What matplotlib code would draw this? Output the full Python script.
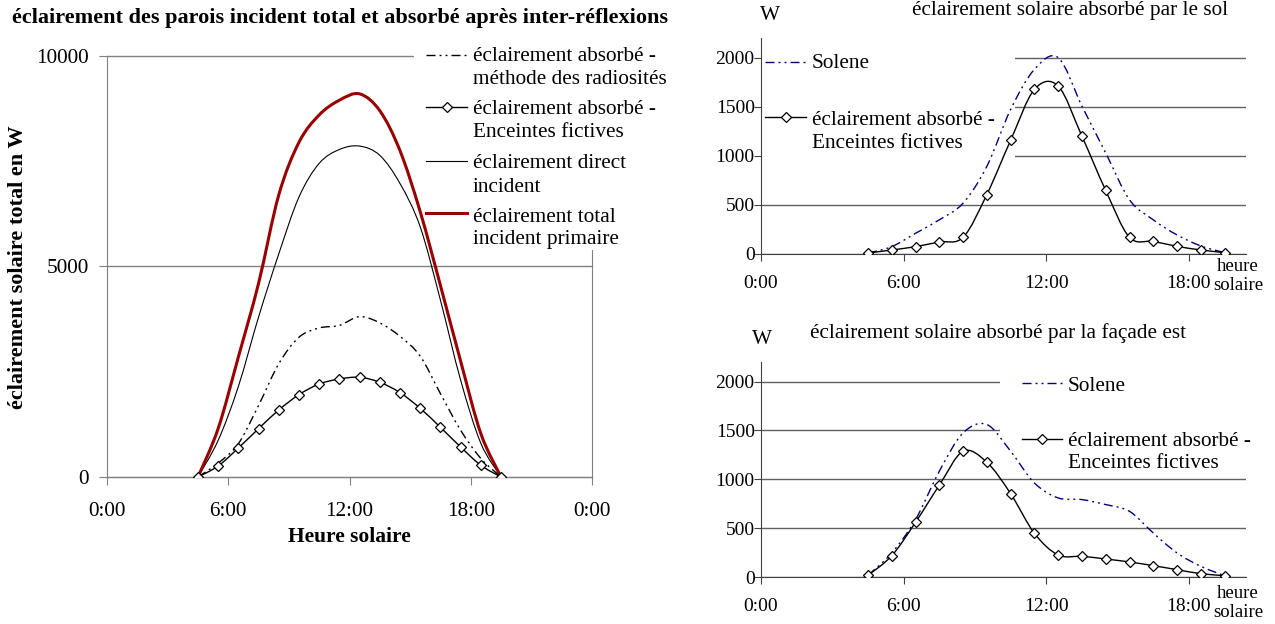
import numpy as np
import matplotlib
matplotlib.use("Agg")
import matplotlib.pyplot as plt
from matplotlib.path import Path
from matplotlib.patches import PathPatch, Rectangle
from matplotlib.lines import Line2D

plt.rcParams['font.family'] = 'Liberation Serif'
plt.rcParams['font.size'] = 15

# heures solaires des points (h)
hours = [4.5, 5.5, 6.5, 7.5, 8.5, 9.5, 10.5, 11.5, 12.5, 13.5, 14.5, 15.5, 16.5, 17.5, 18.5, 19.5]

# graphique de gauche : éclairement des parois (W)
radiosites = [0, 330, 790, 1700, 2690, 3320, 3540, 3600, 3810, 3660, 3340, 2870, 1980, 1110, 440, 0]
enceintes = [0, 261, 689, 1148, 1592, 1956, 2209, 2328, 2368, 2249, 2003, 1631, 1180, 713, 277, 0]
direct = [0, 870, 2150, 3800, 5300, 6650, 7450, 7780, 7860, 7640, 6970, 5940, 4200, 2300, 800, 0]
total = [0, 1150, 2850, 4600, 6700, 7950, 8600, 8950, 9100, 8700, 7750, 6300, 4550, 2750, 1030, 0]

# éclairement absorbé par le sol (W)
sol_solene = [10, 75, 211, 348, 518, 893, 1472, 1880, 2000, 1506, 1029, 552, 348, 194, 82, 14]
sol_enceintes = [10, 41, 75, 123, 170, 606, 1158, 1676, 1710, 1199, 647, 170, 129, 78, 41, 14]

# éclairement absorbé par la façade est (W)
est_solene = [17, 246, 587, 1082, 1474, 1560, 1287, 962, 809, 792, 741, 672, 450, 246, 109, 14]
est_enceintes = [17, 218, 560, 939, 1287, 1174, 853, 447, 225, 212, 184, 154, 116, 75, 34, 14]

x_ticks = [0, 6, 12, 18, 24]
x_labels = ['0:00', '6:00', '12:00', '18:00', '0:00']

W, H = 1275, 624
RED = '#990000'
NAVY = '#000080'
GRID = '#808080'
DASHDOTDOT = (0, (6.5, 2.9, 1.4, 2.9, 1.4, 2.9))
FS = 15.3


def fx(x):
    return x / W


def fy(y):
    return 1 - y / H


def smooth(x, y):
    # courbe lissée façon tableur (Bézier passant par les points)
    x = np.asarray(x, float)
    y = np.asarray(y, float)
    n = len(x)
    verts = [(x[0], y[0])]
    codes = [Path.MOVETO]
    for i in range(n - 1):
        xa, ya = (x[i - 1], y[i - 1]) if i > 0 else (x[i], y[i])
        xb, yb = (x[i + 2], y[i + 2]) if i + 2 < n else (x[i + 1], y[i + 1])
        verts.append((x[i] + (x[i + 1] - xa) / 6, y[i] + (y[i + 1] - ya) / 6))
        verts.append((x[i + 1] - (xb - x[i]) / 6, y[i + 1] - (yb - y[i]) / 6))
        verts.append((x[i + 1], y[i + 1]))
        codes += [Path.CURVE4] * 3
    return Path(verts, codes)


def draw_curve(ax, x, y, color='black', lw=1.0, ls='-', markers=False):
    ax.add_patch(PathPatch(smooth(x, y), facecolor='none', edgecolor=color,
                           lw=lw, linestyle=ls, zorder=2))
    if markers:
        ax.plot(x, y, 'D', ms=5.5, mfc='white', mec='black', mew=0.9, ls='none', zorder=3)


def legend_box(ax, x0, y0, x1, y1):
    ax.add_patch(Rectangle((fx(x0), fy(y1)), fx(x1) - fx(x0), fy(y0) - fy(y1),
                           transform=fig.transFigure, facecolor='white',
                           edgecolor='none', clip_on=False, zorder=1))


def legend_entry(x0, x1, y, lines, baselines, xt, color='black', lw=1.0, ls='-', marker=False):
    fig.add_artist(Line2D([fx(x0), fx(x1)], [fy(y), fy(y)], transform=fig.transFigure,
                          color=color, lw=lw, linestyle=ls, zorder=5))
    if marker:
        fig.add_artist(Line2D([fx((x0 + x1) / 2)], [fy(y)], transform=fig.transFigure,
                              marker='D', ms=5.5, mfc='white', mec='black', mew=0.9,
                              ls='none', zorder=6))
    for txt, b in zip(lines, baselines):
        fig.text(fx(xt), fy(b), txt, ha='left', va='baseline', fontsize=FS, zorder=6)


fig = plt.figure(figsize=(12.75, 6.24), dpi=100)

# ---------- graphique de gauche ----------
ax = fig.add_axes([fx(107), fy(477), (592 - 107) / W, (477 - 56) / H])
ax.set_xlim(0, 24)
ax.set_ylim(0, 10000)
ax.set_xticks(x_ticks)
ax.set_xticklabels(x_labels)
ax.set_yticks([0, 5000, 10000])
ax.set_yticklabels(['0', '5000', '10000'])
ax.yaxis.grid(True, color=GRID, lw=1)
ax.set_axisbelow(True)
for gl in ax.get_ygridlines():
    gl.set_clip_on(False)
ax.spines['top'].set_visible(False)
for s in ['left', 'bottom', 'right']:
    ax.spines[s].set_color(GRID)
ax.spines['right'].set_zorder(0.8)
ax.tick_params(axis='x', length=6, pad=12, color=GRID, labelsize=FS)
ax.tick_params(axis='y', length=6, pad=7, color=GRID, labelsize=FS)

draw_curve(ax, hours, radiosites, lw=1.0, ls=DASHDOTDOT)
draw_curve(ax, hours, enceintes, lw=1.0, markers=True)
draw_curve(ax, hours, direct, lw=0.8)
draw_curve(ax, hours, total, color=RED, lw=2.2)

legend_box(ax, 414, 42, 720, 250)
legend_entry(426, 467, 55, ['éclairement absorbé -', 'méthode des radiosités'], [61, 84], 473,
             lw=1.0, ls=DASHDOTDOT)
legend_entry(426, 467, 107, ['éclairement absorbé -', 'Enceintes fictives'], [114, 137], 473,
             lw=1.0, marker=True)
legend_entry(426, 467, 161, ['éclairement direct', 'incident'], [168, 192], 473, lw=0.8)
legend_entry(426, 467, 213, ['éclairement total', 'incident primaire'], [222, 244], 473,
             color=RED, lw=2.2)

fig.text(fx(340), fy(18), 'éclairement des parois incident total et absorbé après inter-réflexions',
         ha='center', va='center', fontsize=16, fontweight='bold')
fig.text(fx(18), fy(267), 'éclairement solaire total en W', rotation=90,
         ha='center', va='center', fontsize=16, fontweight='bold')
fig.text(fx(349), fy(537), 'Heure solaire', ha='center', va='center', fontsize=15.5, fontweight='bold')


# ---------- graphiques de droite ----------
def small_axes(bottom_px, top_px):
    a = fig.add_axes([fx(761), fy(bottom_px), (1246 - 761) / W, (bottom_px - top_px) / H])
    a.set_xlim(0, 20.4)
    a.set_ylim(0, 2200)
    a.set_xticks(x_ticks[:4])
    a.set_xticklabels(x_labels[:4])
    a.set_yticks([0, 500, 1000, 1500, 2000])
    a.yaxis.grid(True, color='#606060', lw=1)
    a.set_axisbelow(True)
    a.spines['top'].set_visible(False)
    a.spines['right'].set_visible(False)
    for s in ['left', 'bottom']:
        a.spines[s].set_color('#404040')
    a.tick_params(axis='x', length=5, pad=10, color='#404040', labelsize=14)
    a.tick_params(axis='y', length=5, pad=-0.5, color='#404040', labelsize=14)
    return a


# sol
ax2 = small_axes(254, 38)
draw_curve(ax2, hours, sol_solene, color=NAVY, lw=1.0, ls=DASHDOTDOT)
draw_curve(ax2, hours, sol_enceintes, lw=1.0, markers=True)
legend_box(ax2, 762, 38, 1015, 165)
legend_entry(765, 806, 62, ['Solene'], [68], 812, color=NAVY, lw=1.0, ls=DASHDOTDOT)
legend_entry(765, 806, 117, ['éclairement absorbé -', 'Enceintes fictives'], [125, 148], 812,
             lw=1.0, marker=True)
fig.text(fx(1070), fy(10), 'éclairement solaire absorbé par le sol', ha='center', va='center', fontsize=FS)
fig.text(fx(770), fy(16), 'W', ha='center', va='center', fontsize=FS)
fig.text(fx(1238), fy(276), 'heure\nsolaire', ha='center', va='center', fontsize=13.5, linespacing=1.1)

# façade est
ax3 = small_axes(577, 362)
draw_curve(ax3, hours, est_solene, color=NAVY, lw=1.0, ls=DASHDOTDOT)
draw_curve(ax3, hours, est_enceintes, lw=1.0, markers=True)
legend_box(ax3, 1000, 362, 1270, 474)
legend_entry(1022, 1062, 383, ['Solene'], [391], 1068, color=NAVY, lw=1.0, ls=DASHDOTDOT)
legend_entry(1022, 1062, 439, ['éclairement absorbé -', 'Enceintes fictives'], [446, 468], 1068,
             lw=1.0, marker=True)
fig.text(fx(998), fy(333), 'éclairement solaire absorbé par la façade est', ha='center', va='center', fontsize=FS)
fig.text(fx(762), fy(340), 'W', ha='center', va='center', fontsize=FS)
fig.text(fx(1238), fy(603), 'heure\nsolaire', ha='center', va='center', fontsize=13.5, linespacing=1.1)

fig.savefig('out.png', dpi=100)
